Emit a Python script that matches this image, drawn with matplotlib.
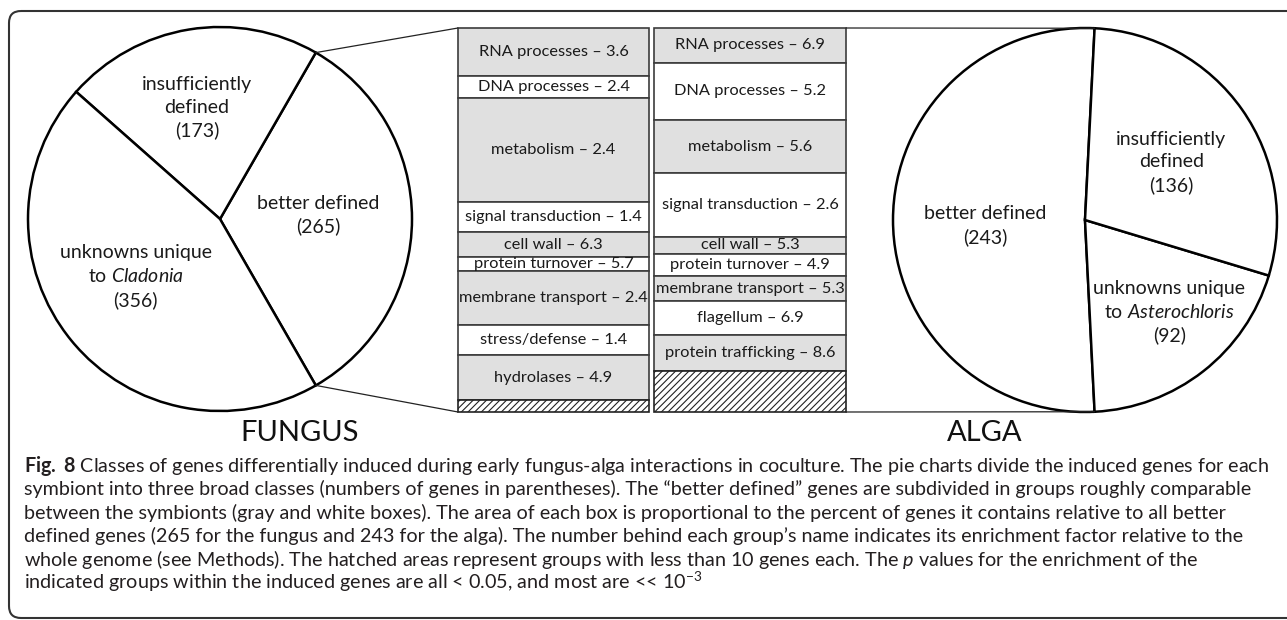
import matplotlib.pyplot as plt
from matplotlib.patches import FancyBboxPatch, ConnectionPatch
import numpy as np

plt.rcParams['font.family'] = ['Lato', 'DejaVu Sans']
plt.rcParams['mathtext.fontset'] = 'custom'
plt.rcParams['mathtext.rm'] = 'Lato'
plt.rcParams['mathtext.it'] = 'Lato:italic'
plt.rcParams['mathtext.bf'] = 'Lato:bold'
plt.rcParams['hatch.linewidth'] = 0.8

W, H = 1287, 620

# pie charts: numbers of induced genes per broad class
fungus_classes = ["better defined", "insufficiently\ndefined", "unknowns unique\nto $\\mathit{Cladonia}$"]
fungus_counts = [265, 173, 356]
alga_classes = ["better defined", "unknowns unique\nto $\\mathit{Asterochloris}$", "insufficiently\ndefined"]
alga_counts = [243, 92, 136]

# "better defined" subgroups (gene counts), last one = hatched small groups
fungus_groups = ["RNA processes", "DNA processes", "metabolism", "signal transduction", "cell wall",
                 "protein turnover", "membrane transport", "stress/defense", "hydrolases", None]
fungus_enrich = [3.6, 2.4, 2.4, 1.4, 6.3, 5.7, 2.4, 1.4, 4.9, None]
fungus_genes = [33, 15, 72, 21, 17, 10, 37, 21, 31, 8]

alga_groups = ["RNA processes", "DNA processes", "metabolism", "signal transduction", "cell wall",
               "protein turnover", "membrane transport", "flagellum", "protein trafficking", None]
alga_enrich = [6.9, 5.2, 5.6, 2.6, 5.3, 4.9, 5.3, 6.9, 8.6, None]
alga_genes = [22, 36, 34, 40, 11, 14, 16, 21, 23, 26]

caption = [
    "$\\mathbf{Fig.}$ $\\mathbf{8}$ Classes of genes differentially induced during early fungus-alga interactions in coculture. The pie charts divide the induced genes for each",
    "symbiont into three broad classes (numbers of genes in parentheses). The \u201cbetter defined\u201d genes are subdivided in groups roughly comparable",
    "between the symbionts (gray and white boxes). The area of each box is proportional to the percent of genes it contains relative to all better",
    "defined genes (265 for the fungus and 243 for the alga). The number behind each group\u2019s name indicates its enrichment factor relative to the",
    "whole genome (see Methods). The hatched areas represent groups with less than 10 genes each. The $\\mathit{p}$ values for the enrichment of the",
    "indicated groups within the induced genes are all < 0.05, and most are << 10$^{-3}$",
]

GRAY = '#e0e0e0'
EDGE = '#3c3c3c'

fig = plt.figure(figsize=(W / 100, H / 100), dpi=100)

# background axes in pixel units (y down)
bg = fig.add_axes([0, 0, 1, 1])
bg.set_xlim(0, W)
bg.set_ylim(H, 0)
bg.axis('off')
bg.add_patch(FancyBboxPatch((9, 11), W + 30, 607, boxstyle="round,pad=0,rounding_size=12",
                            fill=False, lw=1.5, ec='#333333'))


def px_axes(x0, y0, x1, y1):
    return fig.add_axes([x0 / W, (H - y1) / H, (x1 - x0) / W, (y1 - y0) / H])


def draw_pie(cx, cy, r, counts, start):
    ax = px_axes(cx - r, cy - r, cx + r, cy + r)
    wedges, _ = ax.pie(counts, startangle=start, counterclock=True, frame=True,
                       colors=['white'] * len(counts),
                       wedgeprops=dict(edgecolor='black', linewidth=1.8, clip_on=False))
    ax.set_xlim(-1, 1)
    ax.set_ylim(-1, 1)
    ax.axis('off')
    return ax, wedges


def draw_column(x0, x1, y0, y1, groups, enrich, genes):
    ax = px_axes(x0, y0, x1, y1)
    bottoms = np.concatenate([[0], np.cumsum(genes)[:-1]])
    for i, (g, e, n, b) in enumerate(zip(groups, enrich, genes, bottoms)):
        if g is None:
            ax.bar(0, n, bottom=b, width=1, color='white', edgecolor='#222222',
                   hatch='/////', linewidth=1.2, clip_on=False)
        else:
            ax.bar(0, n, bottom=b, width=1, color=GRAY if i % 2 == 0 else 'white',
                   edgecolor=EDGE, linewidth=1.2, clip_on=False)
            ax.text(0, b + n / 2, f"{g} \u2013 {e}", ha='center', va='center',
                    fontsize=11.8, color='#1a1a1a')
    ax.set_xlim(-0.5, 0.5)
    ax.set_ylim(sum(genes), 0)
    ax.axis('off')
    return ax


R = 192
fs = fungus_counts[0] / sum(fungus_counts) * 360
ax_f, w_f = draw_pie(220, 219, R, fungus_counts, -fs / 2)
as_ = alga_counts[0] / sum(alga_counts) * 360
ax_a, w_a = draw_pie(1085, 220, R, alga_counts, 180 - as_ / 2)

ax_fb = draw_column(458, 649, 28, 412, fungus_groups, fungus_enrich, fungus_genes)
ax_ab = draw_column(654, 846, 28, 412, alga_groups, alga_enrich, alga_genes)

# pie labels (position in radius units from centre)
lab_f = [(0.51, 0.02), (-0.12, 0.58), (-0.44, -0.30)]
for name, n, (dx, dy) in zip(fungus_classes, fungus_counts, lab_f):
    ax_f.text(dx, dy, f"{name}\n({n})", ha='center', va='center', fontsize=14,
              linespacing=1.4, color='#1a1a1a')
lab_a = [(-0.52, -0.03), (0.44, -0.48), (0.45, 0.30)]
for name, n, (dx, dy) in zip(alga_classes, alga_counts, lab_a):
    ax_a.text(dx, dy, f"{name}\n({n})", ha='center', va='center', fontsize=14,
              linespacing=1.4, color='#1a1a1a')

# connectors from "better defined" wedge to its column
wf = w_f[0]
for t, yb in [(wf.theta2, 1), (wf.theta1, 0)]:
    a = np.deg2rad(t)
    fig.add_artist(ConnectionPatch(xyA=(np.cos(a), np.sin(a)), coordsA=ax_f.transData,
                                   xyB=(0, yb), coordsB=ax_fb.transAxes, lw=0.9, color='#222222'))
wa = w_a[0]
for t, yb in [(wa.theta1, 1), (wa.theta2, 0)]:
    a = np.deg2rad(t)
    fig.add_artist(ConnectionPatch(xyA=(np.cos(a), np.sin(a)), coordsA=ax_a.transData,
                                   xyB=(1, yb), coordsB=ax_ab.transAxes, lw=0.9, color='#222222'))

bg.text(300, 433, "FUNGUS", ha='center', va='center', fontsize=21, color='#111111')
bg.text(985, 433, "ALGA", ha='center', va='center', fontsize=21, color='#111111')

for k, line in enumerate(caption):
    bg.text(24, 472 + 23.4 * k, line, ha='left', va='baseline', fontsize=14.2, color='#231f20')

fig.savefig('out.png', dpi=100)
